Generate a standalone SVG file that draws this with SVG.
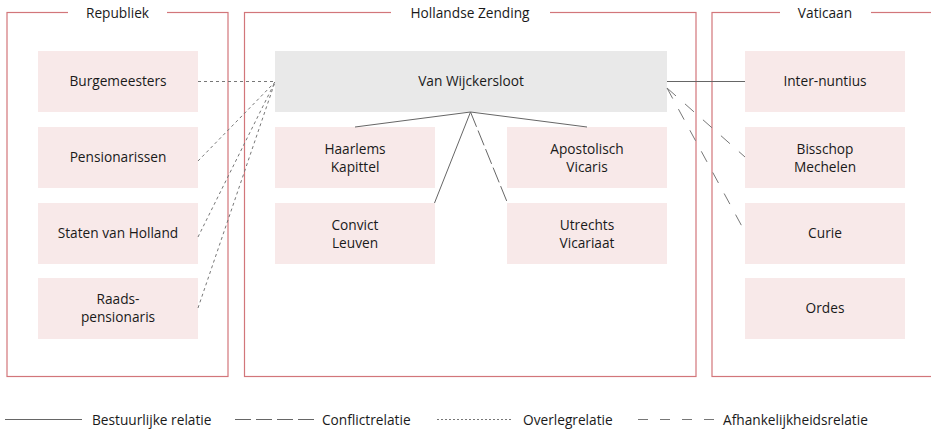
<svg xmlns="http://www.w3.org/2000/svg" width="931" height="429" viewBox="0 0 931 429">
<style>
  text { font-family: "Open Sans", "Liberation Sans", sans-serif; font-size: 13.7px; fill: #1a1a1a; text-anchor: middle; }
  .frame { fill: none; stroke: #d2767a; stroke-width: 1.2; }
  .gap { fill: #fff; stroke: none; }
  .node { fill: #f8e9e9; }
  .main { fill: #e9e9e9; }
  .bestuur { fill: none; stroke: #666; stroke-width: 1; }
  .conflict { fill: none; stroke: #666; stroke-width: 1; stroke-dasharray: 16 4; }
  .overleg { fill: none; stroke: #777; stroke-width: 1; stroke-dasharray: 3 3; }
  .afhank { fill: none; stroke: #777; stroke-width: 1; stroke-dasharray: 12 12; }
  .legend text { text-anchor: start; }
</style>
<rect width="931" height="429" fill="#fff"/>

<g id="frames">
  <g id="frame-republiek">
    <rect class="frame" x="7" y="12.5" width="221" height="364"/>
    <rect class="gap" x="68" y="5" width="99" height="15"/>
    <text x="117.5" y="18">Republiek</text>
  </g>
  <g id="frame-hollandse-zending">
    <rect class="frame" x="244.5" y="12.5" width="451.5" height="364"/>
    <rect class="gap" x="391" y="5" width="159" height="15"/>
    <text x="470" y="18">Hollandse Zending</text>
  </g>
  <g id="frame-vaticaan">
    <rect class="frame" x="712" y="12.5" width="226" height="364"/>
    <rect class="gap" x="780" y="5" width="91" height="15"/>
    <text x="825" y="18">Vaticaan</text>
  </g>
</g>

<g id="nodes">
  <g id="n-burgemeesters"><rect class="node" x="38" y="51" width="160" height="61"/><text x="118" y="86">Burgemeesters</text></g>
  <g id="n-pensionarissen"><rect class="node" x="38" y="127" width="160" height="61"/><text x="118" y="162">Pensionarissen</text></g>
  <g id="n-staten"><rect class="node" x="38" y="203" width="160" height="61"/><text x="118" y="238">Staten van Holland</text></g>
  <g id="n-raadspensionaris"><rect class="node" x="38" y="278" width="160" height="61"/><text x="118" y="304">Raads-</text><text x="118" y="322">pensionaris</text></g>

  <g id="n-vanwijckersloot"><rect class="main" x="275" y="51" width="392" height="61"/><text x="471" y="86">Van Wijckersloot</text></g>
  <g id="n-haarlems"><rect class="node" x="275" y="127" width="160" height="61"/><text x="355" y="153.5">Haarlems</text><text x="355" y="172">Kapittel</text></g>
  <g id="n-apostolisch"><rect class="node" x="507" y="127" width="160" height="61"/><text x="587" y="153.5">Apostolisch</text><text x="587" y="172">Vicaris</text></g>
  <g id="n-convict"><rect class="node" x="275" y="203" width="160" height="61"/><text x="355" y="229.5">Convict</text><text x="355" y="248">Leuven</text></g>
  <g id="n-utrechts"><rect class="node" x="507" y="203" width="160" height="61"/><text x="587" y="229.5">Utrechts</text><text x="587" y="248">Vicariaat</text></g>

  <g id="n-internuntius"><rect class="node" x="745" y="51" width="160" height="61"/><text x="825" y="86">Inter-nuntius</text></g>
  <g id="n-bisschop"><rect class="node" x="745" y="127" width="160" height="61"/><text x="825" y="153.5">Bisschop</text><text x="825" y="172">Mechelen</text></g>
  <g id="n-curie"><rect class="node" x="745" y="203" width="160" height="61"/><text x="825" y="238">Curie</text></g>
  <g id="n-ordes"><rect class="node" x="745" y="278" width="160" height="61"/><text x="825" y="313">Ordes</text></g>
</g>

<g id="connectors">
  <line class="overleg" x1="198" y1="81.5" x2="275" y2="81.5"/>
  <line class="overleg" x1="198" y1="161" x2="275" y2="82"/>
  <line class="overleg" x1="198" y1="237" x2="275" y2="82"/>
  <line class="overleg" x1="198" y1="308" x2="275" y2="82"/>

  <line class="bestuur" x1="470.5" y1="112" x2="355" y2="127"/>
  <line class="bestuur" x1="470.5" y1="112" x2="587" y2="127"/>
  <line class="bestuur" x1="470.5" y1="112" x2="434.5" y2="203"/>
  <line class="conflict" x1="470.5" y1="112" x2="507.5" y2="203"/>
  <line class="bestuur" x1="667" y1="81.5" x2="745" y2="81.5"/>

  <line class="afhank" x1="667" y1="88" x2="745" y2="157"/>
  <line class="afhank" x1="667" y1="88" x2="745" y2="232"/>
</g>

<g id="legend" class="legend">
  <line class="bestuur" x1="5" y1="419.5" x2="82" y2="419.5"/>
  <text x="92" y="424.5">Bestuurlijke relatie</text>
  <line class="conflict" x1="235" y1="419.5" x2="315" y2="419.5" style="stroke-dasharray:16 5"/>
  <text x="322" y="424.5">Conflictrelatie</text>
  <line class="overleg" x1="437" y1="419.5" x2="512" y2="419.5" style="stroke-dasharray:2 2"/>
  <text x="523" y="424.5">Overlegrelatie</text>
  <line class="afhank" x1="638" y1="419.5" x2="716" y2="419.5" style="stroke-dasharray:10 12"/>
  <text x="723" y="424.5">Afhankelijkheidsrelatie</text>
</g>
</svg>
